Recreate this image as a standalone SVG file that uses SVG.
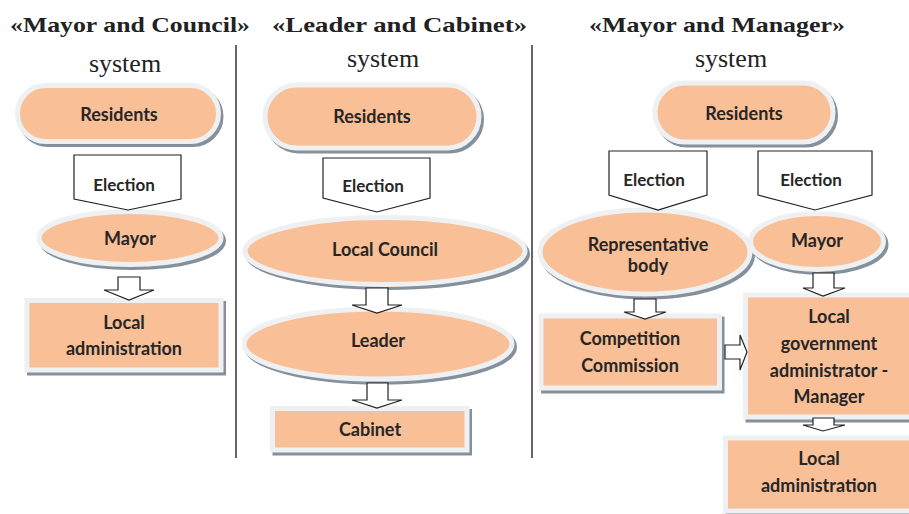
<svg xmlns="http://www.w3.org/2000/svg" width="909" height="514" viewBox="0 0 909 514">
<style>
.title{font-family:"Liberation Serif","Times New Roman",serif;font-weight:bold;font-size:22px;fill:#222;}
.sys{font-family:"Liberation Serif","Times New Roman",serif;font-size:26px;fill:#222;}
.lbl{font-family:Lato,"Open Sans",sans-serif;font-weight:bold;font-size:18px;fill:#262626;text-anchor:middle;}
.el{font-family:Lato,"Open Sans",sans-serif;font-weight:bold;font-size:17px;fill:#262626;text-anchor:middle;}
.node{fill:#f9bf97;stroke:#eef0f2;stroke-width:5;}
.shadow{fill:#84909c;stroke:#84909c;stroke-width:5;}
.conn{fill:#fff;stroke:#222;stroke-width:1.2;stroke-linejoin:miter;}
.divider{stroke:#333;stroke-width:1.5;}
</style>

<g id="titles">
<text class="title" x="10" y="32" textLength="240" lengthAdjust="spacingAndGlyphs">«Mayor and Council»</text>
<text class="title" x="272" y="32" textLength="255" lengthAdjust="spacingAndGlyphs">«Leader  and Cabinet»</text>
<text class="title" x="589" y="32" textLength="256" lengthAdjust="spacingAndGlyphs">«Mayor and Manager»</text>
<text class="sys" x="125" y="72" text-anchor="middle">system</text>
<text class="sys" x="383" y="67" text-anchor="middle">system</text>
<text class="sys" x="731" y="67" text-anchor="middle">system</text>
</g>

<g id="dividers">
<line class="divider" x1="236" y1="45" x2="236" y2="458"/>
<line class="divider" x1="532" y1="45" x2="532" y2="458"/>
</g>

<g id="residents1">
<rect class="shadow" x="20" y="88.5" width="201" height="56" rx="28"/>
<rect class="node" x="17.5" y="85.5" width="201" height="56" rx="28"/>
<text class="lbl" x="119" y="121">Residents</text>
</g>
<g id="mayor1">
<ellipse class="shadow" cx="132.5" cy="241" rx="91" ry="26.5"/>
<ellipse class="node" cx="130" cy="238" rx="91" ry="26.5"/>
<text class="lbl" x="130" y="245">Mayor</text>
</g>
<g id="admin1">
<rect class="shadow" x="29.5" y="303.5" width="194" height="69.5"/>
<rect class="node" x="27" y="300.5" width="194" height="69.5"/>
<text class="lbl" x="124" y="329">Local</text>
<text class="lbl" x="124" y="355">administration</text>
</g>

<g id="residents2">
<rect class="shadow" x="267.5" y="88" width="214" height="63" rx="31.5"/>
<rect class="node" x="265" y="85" width="214" height="63" rx="31.5"/>
<text class="lbl" x="372" y="123">Residents</text>
</g>
<g id="council">
<ellipse class="shadow" cx="387.5" cy="254" rx="140" ry="33.5"/>
<ellipse class="node" cx="385" cy="251" rx="140" ry="33.5"/>
<text class="lbl" x="385" y="256">Local Council</text>
</g>
<g id="leader">
<ellipse class="shadow" cx="380.5" cy="347" rx="134" ry="35"/>
<ellipse class="node" cx="378" cy="344" rx="134" ry="35"/>
<text class="lbl" x="378" y="347">Leader</text>
</g>
<g id="cabinet">
<rect class="shadow" x="275" y="411.5" width="194.5" height="41.5"/>
<rect class="node" x="272.5" y="408.5" width="194.5" height="41.5"/>
<text class="lbl" x="370" y="436">Cabinet</text>
</g>

<g id="residents3">
<rect class="shadow" x="657.5" y="86" width="178" height="59" rx="29.5"/>
<rect class="node" x="655" y="83" width="178" height="59" rx="29.5"/>
<text class="lbl" x="744" y="120">Residents</text>
</g>
<g id="repbody">
<ellipse class="shadow" cx="647.5" cy="255" rx="105" ry="42"/>
<ellipse class="node" cx="645" cy="252" rx="105" ry="42"/>
<text class="lbl" x="648" y="251">Representative</text>
<text class="lbl" x="648" y="272">body</text>
</g>
<g id="mayor3">
<ellipse class="shadow" cx="819.5" cy="244.5" rx="66.5" ry="28"/>
<ellipse class="node" cx="817" cy="241.5" rx="66.5" ry="28"/>
<text class="lbl" x="817" y="247">Mayor</text>
</g>
<g id="commission">
<rect class="shadow" x="543.5" y="319" width="178.5" height="72"/>
<rect class="node" x="541" y="316" width="178.5" height="72"/>
<text class="lbl" x="630" y="345">Competition</text>
<text class="lbl" x="630" y="372">Commission</text>
</g>
<g id="manager">
<rect class="shadow" x="748" y="298" width="170" height="122"/>
<rect class="node" x="745.5" y="295" width="170" height="122"/>
<text class="lbl" x="829" y="323">Local</text>
<text class="lbl" x="829" y="350">government</text>
<text class="lbl" x="829" y="377">administrator -</text>
<text class="lbl" x="829" y="403">Manager</text>
</g>
<g id="admin3">
<rect class="shadow" x="728" y="441" width="190" height="73"/>
<rect class="node" x="725.5" y="438" width="190" height="73"/>
<text class="lbl" x="819" y="465">Local</text>
<text class="lbl" x="819" y="492">administration</text>
</g>

<g id="connectors">
<polygon id="elec1" class="conn" points="74,155 181,155 181,199 128,210 74,199"/>
<text class="el" x="124" y="191">Election</text>
<polygon class="conn" points="118,277 140,277 140,290 154,290 129,300 104,290 118,290"/>

<polygon id="elec2" class="conn" points="323,158 430,158 430,198 377,212 323,198"/>
<text class="el" x="373" y="192">Election</text>
<polygon class="conn" points="366,288 388,288 388,305 402,305 377,313 352,305 366,305"/>
<polygon class="conn" points="367,383 388,383 388,400 402,400 377,408 352,400 367,400"/>

<polygon id="elec3" class="conn" points="609,151 707,151 707,195 658,210 609,195"/>
<text class="el" x="654" y="186">Election</text>
<polygon id="elec4" class="conn" points="758,151 872,151 872,195 815,210 758,195"/>
<text class="el" x="811" y="186">Election</text>
<polygon class="conn" points="634,299 656,299 656,312 666,312 645,319 624,312 634,312"/>
<polygon class="conn" points="725,345 740,345 740,335 747,352 740,370 740,359 725,359"/>
<polygon class="conn" points="813,273 834,273 834,288 845,288 823,296 803,288 813,288"/>
<polygon class="conn" points="813,418 834,418 834,425 845,425 823,431 803,425 813,425"/>
</g>
</svg>
